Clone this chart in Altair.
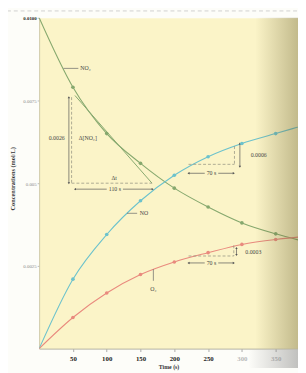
import altair as alt
import pandas as pd

# ---- data ----
times = [0, 50, 100, 150, 200, 250, 300, 350, 400]
no2 = [0.0100, 0.0079, 0.0065, 0.0056, 0.00485, 0.00428, 0.0038, 0.00347, 0.0032]
no = [0.0, 0.0021, 0.00345, 0.00447, 0.00524, 0.0058, 0.0062, 0.0065, 0.0068]
o2 = [0.0, 0.00094, 0.00168, 0.00224, 0.00262, 0.0029, 0.00315, 0.0033, 0.0034]
species = ["NO2", "NO", "O2"]
line_colors = ["#86a86e", "#6cc2cc", "#e98a7e"]
dot_colors = ["#3d7a3e", "#2a8ad4", "#d9463f"]

x_ticks = [50, 100, 150, 200, 250, 300, 350]
y_ticks = [0.0025, 0.005, 0.0075, 0.01]

# tangent to NO2 curve
tan_t = [53, 167]
tan_c = [0.00765, 0.0050]

# dashed construction lines (t1, c1, t2, c2)
dash_t1 = [48, 48, 289, 221, 288, 221]
dash_c1 = [0.0076, 0.0050, 0.00612, 0.00557, 0.00312, 0.0028]
dash_t2 = [48, 167, 289, 289, 288, 288]
dash_c2 = [0.0050, 0.0050, 0.00557, 0.00557, 0.0028, 0.0028]

# solid arrow shafts (t1, c1, t2, c2)
arr_t1 = [44, 53, 124, 297, 221, 265, 292, 221, 265]
arr_c1 = [0.0076, 0.00482, 0.00482, 0.0062, 0.0053, 0.0053, 0.00304, 0.00259, 0.00259]
arr_t2 = [44, 100, 168, 297, 245, 288, 292, 245, 288]
arr_c2 = [0.0050, 0.00482, 0.00482, 0.0055, 0.0053, 0.0053, 0.00283, 0.00259, 0.00259]

# arrow heads
head_t = [44, 44, 53, 168, 297, 297, 221, 288, 292, 292, 221, 288]
head_c = [0.0076, 0.0050, 0.00482, 0.00482, 0.0062, 0.0055, 0.0053, 0.0053,
          0.00304, 0.00283, 0.00259, 0.00259]
head_shape = ["triangle-up", "triangle-down", "triangle-left", "triangle-right",
              "triangle-up", "triangle-down", "triangle-left", "triangle-right",
              "triangle-up", "triangle-down", "triangle-left", "triangle-right"]

# leader lines to curve labels
lead_t1 = [36, 130, 169]
lead_c1 = [0.00847, 0.00409, 0.0024]
lead_t2 = [58, 145, 169]
lead_c2 = [0.00847, 0.00409, 0.00205]

# text labels
lab_text = ["NO₂", "NO", "O₂", "0.0026", "Δ[NO₂]", "Δt", "110 s", "0.0006", "70 s", "0.0003", "70 s"]
lab_t = [61, 149, 169, 26, 72, 111, 112, 313, 255, 305, 255]
lab_c = [0.00847, 0.00409, 0.0018, 0.00635, 0.00635, 0.00515, 0.00482, 0.00585, 0.0053, 0.00292, 0.00259]
lab_align = ["left", "left", "center", "center", "center", "center", "center", "left", "center", "left", "center"]

# ---- tables ----
rows = []
for s, vals in zip(species, [no2, no, o2]):
    for t, v in zip(times, vals):
        rows.append({"t": t, "c": v, "s": s})
curves = pd.DataFrame(rows)
tangent = pd.DataFrame({"t": tan_t, "c": tan_c})
dashes = pd.DataFrame({"t": dash_t1, "c": dash_c1, "t2": dash_t2, "c2": dash_c2})
arrows = pd.DataFrame({"t": arr_t1, "c": arr_c1, "t2": arr_t2, "c2": arr_c2})
heads = pd.DataFrame({"t": head_t, "c": head_c, "shape": head_shape})
leads = pd.DataFrame({"t": lead_t1, "c": lead_c1, "t2": lead_t2, "c2": lead_c2})
labels = pd.DataFrame({"t": lab_t, "c": lab_c, "txt": lab_text, "al": lab_align})
one = pd.DataFrame({"k": [0]})

SERIF = "Liberation Serif"
xs = alt.Scale(domain=[0, 383], nice=False, zero=False)
ys = alt.Scale(domain=[0, 0.01], nice=False, zero=False)

x_axis = alt.Axis(values=x_ticks, labelFont=SERIF, labelFontWeight="bold", labelFontSize=7,
                  labelColor=alt.expr("datum.value >= 300 ? '#b8b8b8' : '#222222'"),
                  labelPadding=3, tickSize=3, tickColor="#aaaaaa", domainColor="#b5b2a0",
                  grid=False, titleFont=SERIF, titleFontWeight="bold", titleFontSize=6,
                  titleColor="#333333", titlePadding=2)
y_axis = alt.Axis(values=y_ticks, labelFont=SERIF, labelFontSize=5,
                  labelExpr="datum.value == 0.01 ? '0.0100' : datum.value == 0.005 ? '0.005' : format(datum.value, '.4f')",
                  labelColor=alt.expr("datum.value == 0.01 ? '#222222' : '#8a8a8a'"),
                  labelFontWeight=alt.expr("datum.value == 0.01 ? 'bold' : 'normal'"),
                  labelPadding=1, tickSize=2, tickColor="#bbbbbb", domainColor="#cfc9a8",
                  grid=False, titleFont=SERIF, titleFontWeight="bold", titleFontSize=6.5,
                  titleColor="#333333", titleAngle=270, titleX=-27, titleY=165,
                  titleAlign="center", titleBaseline="middle")


def X():
    return alt.X("t:Q", scale=xs, axis=x_axis, title="Time (s)")


def Y():
    return alt.Y("c:Q", scale=ys, axis=y_axis, title="Concentrations (mol/L)")


color_scale = alt.Scale(domain=species, range=line_colors)
dot_scale = alt.Scale(domain=species, range=dot_colors)

lines = alt.Chart(curves).mark_line(interpolate="monotone", strokeWidth=1.1, clip=True).encode(
    x=X(), y=Y(), color=alt.Color("s:N", scale=color_scale, legend=None), detail="s:N")

dots = alt.Chart(curves).transform_filter(
    "datum.t >= 50 && datum.t <= 350"
).mark_circle(size=14, opacity=1, clip=True).encode(
    x=X(), y=Y(), color=alt.Color("s:N", scale=dot_scale, legend=None))

tan_layer = alt.Chart(tangent).mark_line(color="#86a86e", strokeWidth=1).encode(x=X(), y=Y())

dash_layer = alt.Chart(dashes).mark_rule(color="#8a8a7a", strokeWidth=0.7, strokeDash=[3, 2]).encode(
    x=X(), y=Y(), x2="t2:Q", y2="c2:Q")

arrow_layer = alt.Chart(arrows).mark_rule(color="#555555", strokeWidth=0.7).encode(
    x=X(), y=Y(), x2="t2:Q", y2="c2:Q")

head_layer = alt.Chart(heads).mark_point(filled=True, size=6, color="#555555", opacity=1).encode(
    x=X(), y=Y(), shape=alt.Shape("shape:N", scale=None))

lead_layer = alt.Chart(leads).mark_rule(color="#666666", strokeWidth=0.7).encode(
    x=X(), y=Y(), x2="t2:Q", y2="c2:Q")

text_left = alt.Chart(labels).transform_filter("datum.al == 'left'").mark_text(
    font=SERIF, fontSize=6, color="#444444", align="left", baseline="middle").encode(
    x=X(), y=Y(), text="txt:N")
text_center = alt.Chart(labels).transform_filter("datum.al == 'center'").mark_text(
    font=SERIF, fontSize=6, color="#444444", align="center", baseline="middle").encode(
    x=X(), y=Y(), text="txt:N")

shade = alt.Chart(one).mark_rect(
    color=alt.Gradient(gradient="linear", x1=0, x2=1, y1=0, y2=0,
                       stops=[alt.GradientStop(color="rgba(110,100,50,0)", offset=0),
                              alt.GradientStop(color="rgba(110,100,50,0.4)", offset=1)])
).encode(x=alt.value(222), x2=alt.value(266), y=alt.value(0), y2=alt.value(340))

low_shade = alt.Chart(one).mark_rect(
    clip=False,
    color=alt.Gradient(gradient="linear", x1=0, x2=1, y1=0, y2=0,
                       stops=[alt.GradientStop(color="rgba(120,120,120,0)", offset=0),
                              alt.GradientStop(color="rgba(120,120,120,0.45)", offset=1)])
).encode(x=alt.value(215), x2=alt.value(266), y=alt.value(341), y2=alt.value(360))

top_rule = alt.Chart(one).mark_rule(color="#c4c4c4", strokeDash=[4, 3], strokeWidth=0.8, clip=False).encode(
    x=alt.value(-40), x2=alt.value(266), y=alt.value(-7))

chart = alt.layer(
    lines, tan_layer, dash_layer, arrow_layer, head_layer, lead_layer, dots,
    text_left, text_center, shade, low_shade, top_rule
).properties(
    width=266, height=340,
    autosize=alt.AutoSizeParams(type="none"),
    padding={"left": 32, "top": 5, "right": 0, "bottom": 20},
    background="#fdfdf9",
).configure_view(fill="#fbf4c8", stroke="transparent")

chart.save("out.html", embed_options={"renderer": "svg", "actions": False})
